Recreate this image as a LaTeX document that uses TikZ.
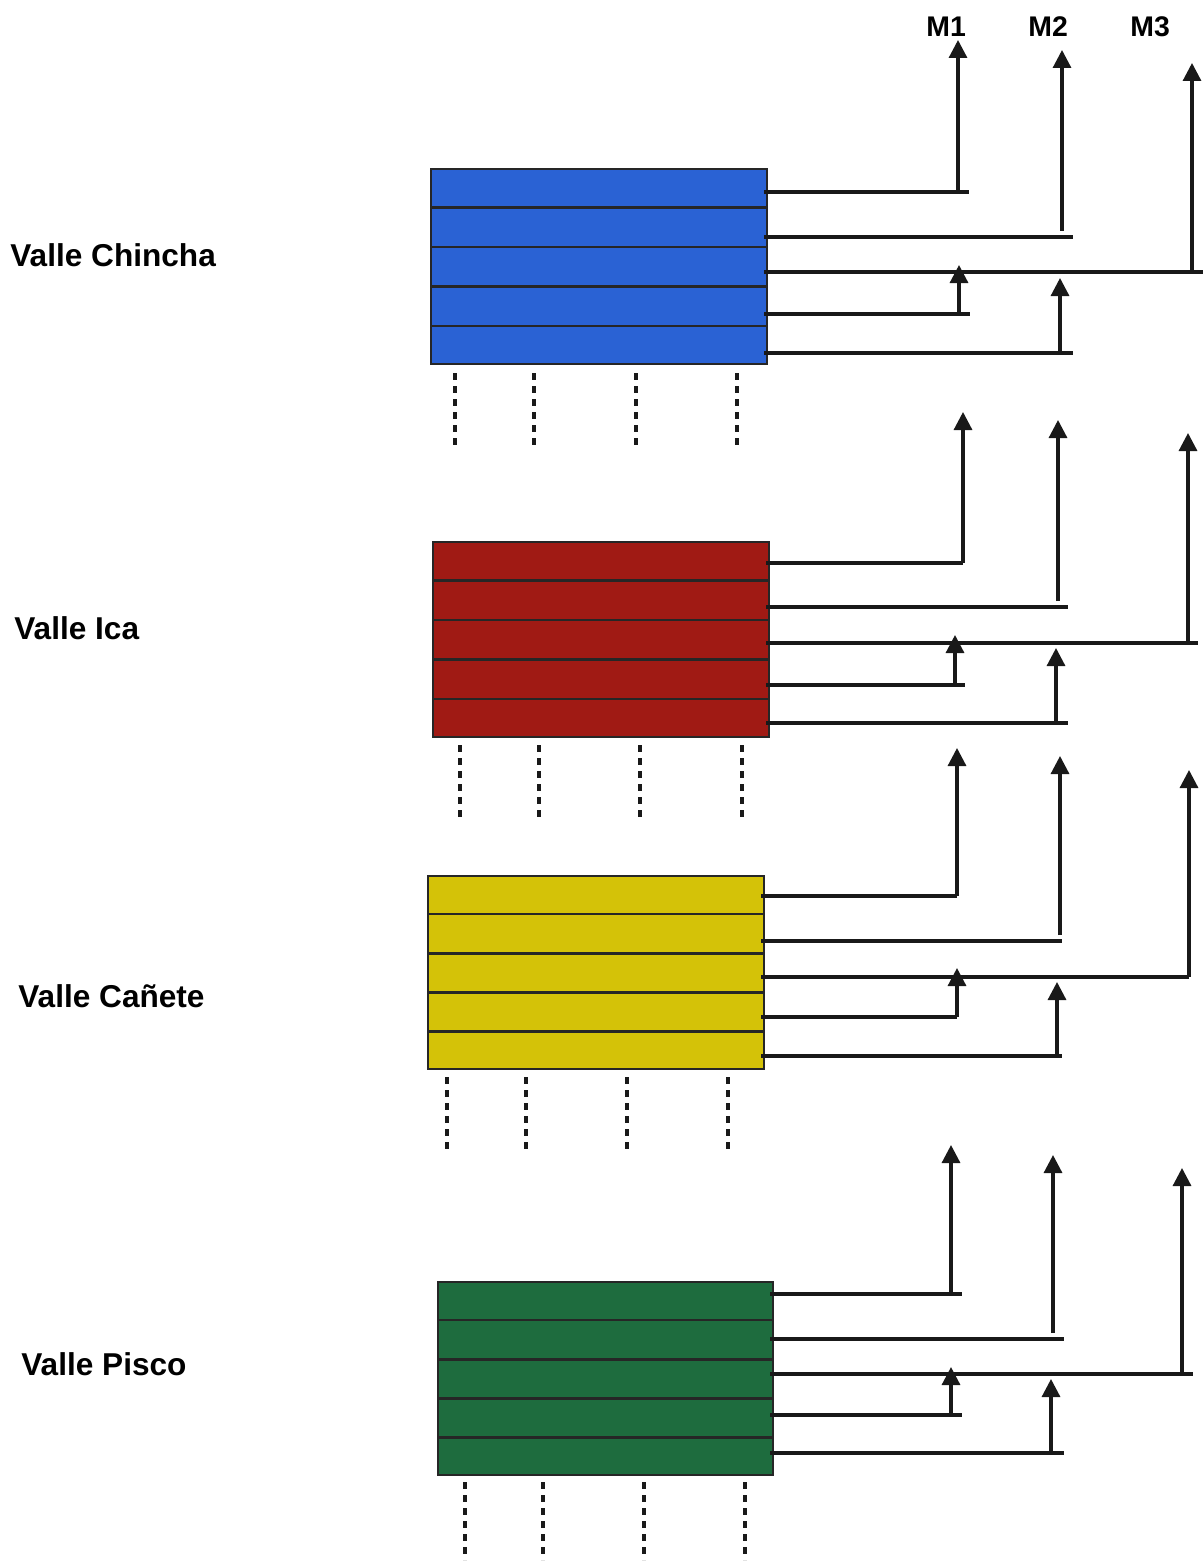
\documentclass[tikz,border=0pt]{standalone}
\usepackage{fontspec}
\setmainfont{Liberation Sans}
\usetikzlibrary{arrows.meta,calc}
\definecolor{vblue}{RGB}{42,98,212}
\definecolor{vred}{RGB}{160,26,20}
\definecolor{vyellow}{RGB}{212,194,8}
\definecolor{vgreen}{RGB}{30,108,62}
\begin{document}
\begin{tikzpicture}[x=0.5pt,y=-0.5pt,
  conn/.style={line width=1.6pt, draw=black!90},
  arr/.style={conn,-{Triangle[width=9pt,length=9pt]}},
  strip/.style={line width=1.4pt, draw=black!85},
  dots/.style={line width=1.7pt, draw=black!90, dash pattern=on 3.5pt off 3pt},
  lab/.style={font=\bfseries\fontsize{15.8}{18}\selectfont, anchor=base west, inner sep=0pt},
  mlab/.style={font=\bfseries\fontsize{14.2}{16}\selectfont, anchor=base west, inner sep=0pt},
  box/.style={draw=black!85, line width=1.2pt, inner sep=0pt, anchor=north west}]
\useasboundingbox (0,0) rectangle (1203,1562);
\fill[white] (0,0) rectangle (1203,1562);

% top labels
\node[mlab] (m1) at (926,37) {M1};
\node[mlab] (m2) at (1028,37) {M2};
\node[mlab] (m3) at (1130,37) {M3};

% valley labels
\node[lab] (l1) at (10,266) {Valle Chincha};
\node[lab] (l2) at (14,639) {Valle Ica};
\node[lab] (l3) at (18,1007) {Valle Cañete};
\node[lab] (l4) at (21,1375) {Valle Pisco};

% boxes
\foreach \n/\col/\xl/\yt/\xr/\yb in {
  1/vblue/430/168/766/363,
  2/vred/432/541/768/736,
  3/vyellow/427/875/763/1068,
  4/vgreen/437/1281/772/1474}{
  \node[box, fill=\col, minimum width={(\xr-\xl)*0.5pt}, minimum height={(\yb-\yt)*0.5pt}] (b\n) at (\xl,\yt) {};
  \foreach \k in {1,2,3,4}
    \draw[strip] ($(b\n.north west)!\k/5!(b\n.south west)$) -- ($(b\n.north east)!\k/5!(b\n.south east)$);
}

% outputs and arrows
\foreach \n/\ya/\yb/\yc/\yd/\ye/\va/\vb/\vc/\ea/\ed/\eb/\ec/\sa/\sb/\ta/\tb/\tc/\pa/\pb in {
  1/192/237/272/314/353/958/1062/1192/969/970/1073/1203/959/1060/40/50/63/265/278,
  2/563/607/643/685/723/963/1058/1188/963/965/1068/1198/955/1056/412/420/433/635/648,
  3/896/941/977/1017/1056/957/1060/1189/957/957/1062/1189/957/1057/748/756/770/968/982,
  4/1294/1339/1374/1415/1453/951/1053/1182/962/962/1064/1193/951/1051/1145/1155/1168/1367/1379}{
  \coordinate (b\n t1) at (\va,\ta);
  \coordinate (b\n t2) at (\vb,\tb);
  \coordinate (b\n t3) at (\vc,\tc);
  \draw[conn] ($(b\n.east |- 0,\ya)+(-4,0)$) -- (\ea,\ya);
  \draw[arr] (\va,\ya) -- (b\n t1);
  \draw[conn] ($(b\n.east |- 0,\yb)+(-4,0)$) -- (\eb,\yb);
  \draw[arr] (\vb,\yb-6) -- (b\n t2);
  \draw[conn] ($(b\n.east |- 0,\yc)+(-4,0)$) -- (\ec,\yc);
  \draw[arr] (\vc,\yc) -- (b\n t3);
  \draw[conn] ($(b\n.east |- 0,\yd)+(-4,0)$) -- (\ed,\yd);
  \draw[arr] (\sa,\yd) -- (\sa,\pa);
  \draw[conn] ($(b\n.east |- 0,\ye)+(-4,0)$) -- (\eb,\ye);
  \draw[arr] (\sb,\ye) -- (\sb,\pb);
}

% dotted continuation lines
\foreach \da/\db/\dc/\dd/\ys/\yf in {
  455/534/636/737/373/450,
  460/539/640/742/745/820,
  447/526/627/728/1077/1152,
  465/543/644/745/1482/1560}{
  \foreach \x in {\da,\db,\dc,\dd}
    \draw[dots] (\x,\ys) -- (\x,\yf);
}
\end{tikzpicture}
\end{document}
